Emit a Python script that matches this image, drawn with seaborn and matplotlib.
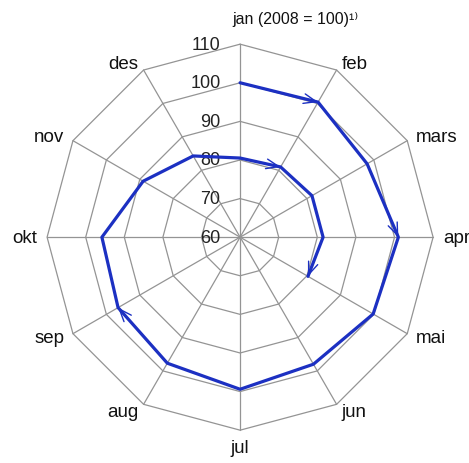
import numpy as np
import pandas as pd
import matplotlib.pyplot as plt
import seaborn as sns

# Months around the wheel (clockwise from top)
months = ['jan', 'feb', 'mars', 'apr', 'mai', 'jun', 'jul', 'aug', 'sep', 'okt', 'nov', 'des']
# Index values, 2008 and first months of 2009 (jan 2008 = 100)
values_2008 = [100, 100.4, 98, 101, 99.8, 98, 99.4, 97.7, 96.5, 95.8, 89, 84.3]
values_2009 = [80.5, 81, 81.5, 81.5, 80.3]
ring_levels = [70, 80, 90, 100, 110]
tick_labels = ['60', '70', '80', '90', '100', '110']
arrow_at = [1, 3, 8, 13, 16]  # positions in the series with an arrowhead
title = 'jan (2008 = 100)\u00b9\u207e'

r_min = 60
blue = '#1c30c2'
grid_col = '#949494'

sns.set_style('white')
plt.rcParams['font.family'] = ['Liberation Sans', 'DejaVu Sans']


def to_xy(vals, idx):
    ang = np.asarray(idx) * 2 * np.pi / 12
    r = np.asarray(vals) - r_min
    return r * np.sin(ang), r * np.cos(ang)


fig = plt.figure(figsize=(4.69, 4.64), dpi=100)
ax = fig.add_axes([0, 0, 1, 1])

# polygon grid + spokes
n = len(months)
for lev in ring_levels:
    gx, gy = to_xy([lev] * (n + 1), list(range(n)) + [0])
    ax.plot(gx, gy, color=grid_col, lw=0.9, zorder=1)
for i in range(n):
    sx, sy = to_xy([r_min, ring_levels[-1]], [i, i])
    ax.plot(sx, sy, color=grid_col, lw=0.9, zorder=1)

# radial tick labels along the top spoke
for lab in tick_labels:
    ax.text(-5.1, float(lab) - r_min, lab, ha='right', va='center',
            fontsize=13, color='#222222', zorder=2)

# month labels just outside the outer ring
pt = 0.72  # points per pixel at 100 dpi
for i, m in enumerate(months):
    vx, vy = to_xy([ring_levels[-1]], [i])
    a = i * 2 * np.pi / 12
    s, c = np.sin(a), np.cos(a)
    if i == 0:
        ax.annotate(title, (vx[0], vy[0]), xytext=(55 * pt, 26 * pt),
                    textcoords='offset points', ha='center', va='center',
                    fontsize=11.5, color='#111111')
        continue
    if abs(s) < 0.01:
        ax.annotate(m, (vx[0], vy[0]), xytext=(0, -9 * pt), textcoords='offset points',
                    ha='center', va='top', fontsize=13.5, color='#111111')
        continue
    ax.annotate(m, (vx[0], vy[0]), xytext=(10 * s * pt, 8 * c * pt),
                textcoords='offset points', ha='left' if s > 0 else 'right',
                va='center', fontsize=13.5, color='#111111')

# the spiral
series = values_2008 + values_2009
idx = [i % 12 for i in range(len(series))]
px, py = to_xy(series, idx)
df = pd.DataFrame({'x': px, 'y': py})
sns.lineplot(data=df, x='x', y='y', sort=False, estimator=None, color=blue,
             lw=2.3, ax=ax, zorder=3)

for k in arrow_at:
    ax.annotate('', xy=(px[k], py[k]), xytext=(px[k - 1], py[k - 1]),
                arrowprops=dict(arrowstyle='->, head_length=0.9, head_width=0.35',
                                color=blue, lw=1.0, shrinkA=0, shrinkB=0),
                zorder=4)

ax.set_xlim(-62.2, 59.3)
ax.set_ylim(-58.5, 61.7)
ax.set_aspect('equal')
ax.axis('off')

fig.savefig('out.png', dpi=100)
